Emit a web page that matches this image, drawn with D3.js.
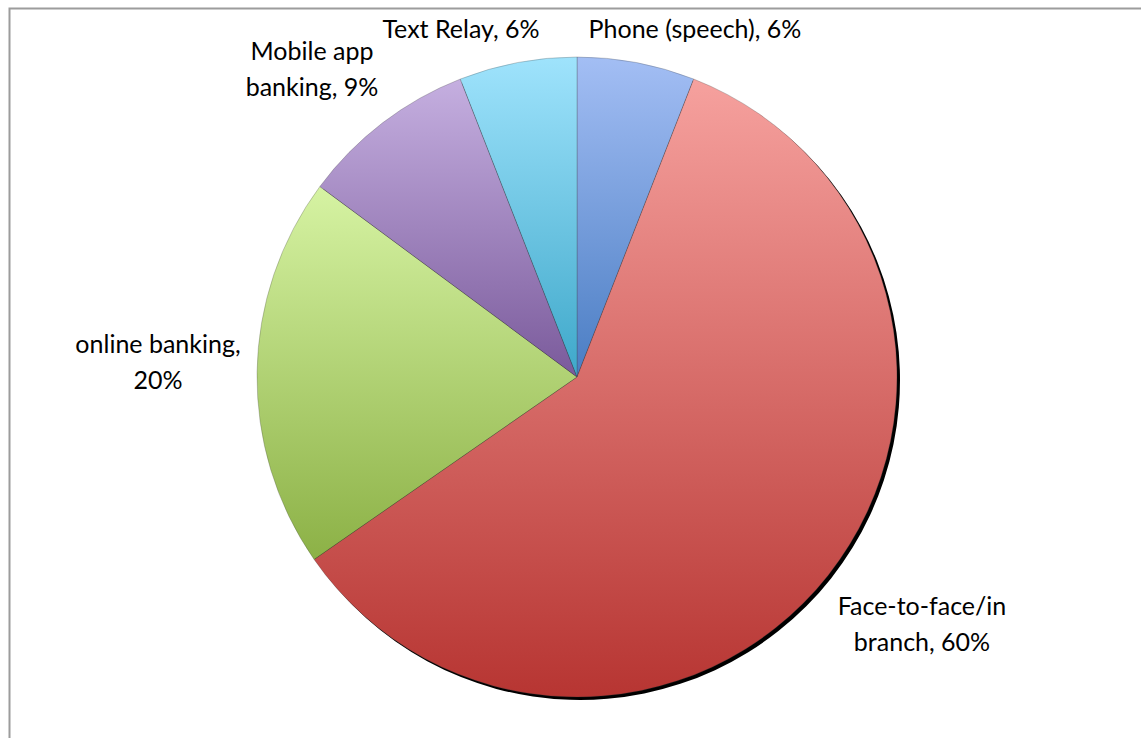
<!DOCTYPE html>
<html>
<head>
<meta charset="utf-8">
<script src="https://cdn.jsdelivr.net/npm/d3@7"></script>
<style>
  html, body { margin: 0; padding: 0; background: #fff; }
  svg { display: block; }
</style>
</head>
<body>
<svg id="chart" width="1141" height="738"></svg>
<script>
// Preferred banking channels, share of respondents (%)
const categories = ["Phone (speech)", "Face-to-face/in branch", "online banking", "Mobile app banking", "Text Relay"];
const values = [6, 60, 20, 9, 6];
// Label text as it wraps beside each slice
const labelLines = [
  ["Phone (speech), 6%"],
  ["Face-to-face/in", "branch, 60%"],
  ["online banking,", "20%"],
  ["Mobile app", "banking, 9%"],
  ["Text Relay, 6%"]
];
// Gradient stops per slice: light at the top, deeper at the bottom
const topColors = ["#a3bef4", "#f6a19e", "#d6f3a3", "#c5afe0", "#9fe3fc"];
const bottomColors = ["#4a7dc3", "#b73532", "#8cb146", "#7a5a9b", "#3ea8ca"];

const width = 1141, height = 738;
const cx = 577, cy = 377, radius = 320;

const svg = d3.select("#chart");
const defs = svg.append("defs");

// Outer frame of the chart area
svg.append("rect")
  .attr("x", 9.5).attr("y", 8.5)
  .attr("width", width + 20).attr("height", height + 20)
  .attr("fill", "none")
  .attr("stroke", "#9c9c9c")
  .attr("stroke-width", 2);

categories.forEach((c, i) => {
  const g = defs.append("linearGradient")
    .attr("id", "grad" + i)
    .attr("x1", 0).attr("y1", 0).attr("x2", 0).attr("y2", 1);
  g.append("stop").attr("offset", "0%").attr("stop-color", topColors[i]);
  g.append("stop").attr("offset", "100%").attr("stop-color", bottomColors[i]);
});

defs.append("filter").attr("id", "soft")
  .append("feGaussianBlur").attr("stdDeviation", 0.6);

const pie = d3.pie().sort(null).value(d => d)
  .startAngle(0).endAngle(2 * Math.PI);
const arcs = pie(values);
const arc = d3.arc().innerRadius(0).outerRadius(radius);

const plot = svg.append("g").attr("transform", `translate(${cx},${cy})`);

// Drop shadow beneath the pie
plot.append("g")
  .attr("transform", "translate(3,3)")
  .attr("filter", "url(#soft)")
  .selectAll("path")
  .data(arcs)
  .join("path")
  .attr("d", arc)
  .attr("fill", "#000");

plot.append("g")
  .selectAll("path")
  .data(arcs)
  .join("path")
  .attr("d", arc)
  .attr("fill", (d, i) => `url(#grad${i})`)
  .attr("stroke", "rgba(60,60,60,0.45)")
  .attr("stroke-width", 0.6);

// Label anchor points (centre of first line), placed outside the slices
const labelPos = [
  [695, 28],
  [922, 605],
  [158, 343],
  [312, 50],
  [461, 28]
];
const lineGap = 36;

const labels = svg.append("g")
  .attr("font-family", "Lato, 'Open Sans', sans-serif")
  .attr("font-size", 25)
  .attr("fill", "#000")
  .attr("text-anchor", "middle");

labelLines.forEach((lines, i) => {
  const t = labels.append("text")
    .attr("x", labelPos[i][0])
    .attr("y", labelPos[i][1])
    .attr("dominant-baseline", "central");
  lines.forEach((ln, j) => {
    t.append("tspan")
      .attr("x", labelPos[i][0])
      .attr("dy", j === 0 ? 0 : lineGap)
      .text(ln);
  });
});
</script>
</body>
</html>
